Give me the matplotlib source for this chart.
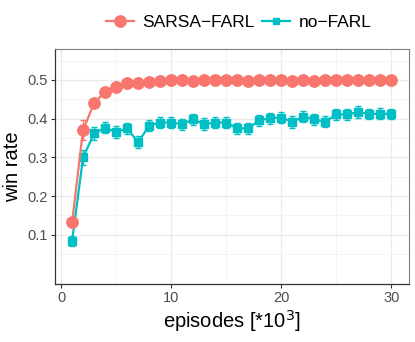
import matplotlib
matplotlib.use("Agg")
import matplotlib.pyplot as plt
from matplotlib.lines import Line2D

plt.rcParams['font.family'] = ['Liberation Sans', 'DejaVu Sans']

episodes = list(range(1, 31))
sarsa_farl = [0.132, 0.371, 0.440, 0.470, 0.483, 0.493, 0.493, 0.495, 0.497, 0.499,
              0.499, 0.498, 0.499, 0.499, 0.500, 0.499, 0.498, 0.499, 0.499, 0.499,
              0.498, 0.499, 0.497, 0.499, 0.499, 0.499, 0.499, 0.499, 0.499, 0.499]
sarsa_err = [0.012, 0.025, 0.006, 0.004, 0.003, 0.002, 0.002, 0.002, 0.002, 0.002,
             0.002, 0.002, 0.002, 0.002, 0.002, 0.002, 0.002, 0.002, 0.002, 0.002,
             0.002, 0.002, 0.002, 0.002, 0.002, 0.002, 0.002, 0.002, 0.002, 0.002]
no_farl = [0.084, 0.300, 0.362, 0.377, 0.365, 0.375, 0.339, 0.382, 0.390, 0.390,
           0.386, 0.398, 0.386, 0.390, 0.390, 0.375, 0.375, 0.396, 0.401, 0.403,
           0.392, 0.405, 0.398, 0.392, 0.411, 0.411, 0.417, 0.412, 0.413, 0.412]
no_farl_err = [0.012, 0.020, 0.016, 0.015, 0.015, 0.015, 0.015, 0.014, 0.014, 0.014,
               0.014, 0.014, 0.015, 0.014, 0.015, 0.015, 0.014, 0.014, 0.014, 0.014,
               0.015, 0.014, 0.014, 0.014, 0.014, 0.015, 0.015, 0.014, 0.014, 0.014]
series_labels = ["SARSA\u2212FARL", "no\u2212FARL"]

RED = "#F8766D"
TEAL = "#00BFC4"

fig = plt.figure(figsize=(4.15, 3.42), dpi=100)
ax = fig.add_axes([55/415, 1-284/342, (409-55)/415, (284-49)/342])

ax.errorbar(episodes, no_farl, yerr=no_farl_err, color=TEAL, marker="s", markersize=6,
            linewidth=1.6, elinewidth=1.0, capsize=2, capthick=1.0, zorder=3)
ax.errorbar(episodes, sarsa_farl, yerr=sarsa_err, color=RED, marker="o", markersize=8.2,
            linewidth=1.6, elinewidth=1.0, capsize=2, capthick=1.0, zorder=4)

ax.set_xlim(-0.55, 31.6)
ax.set_ylim(-0.027, 0.58)
ax.set_xticks([0, 10, 20, 30])
ax.set_xticks([5, 15, 25], minor=True)
ax.set_yticks([0.1, 0.2, 0.3, 0.4, 0.5])
ax.set_yticks([0.05, 0.15, 0.25, 0.35, 0.45, 0.55], minor=True)
ax.grid(which="major", color="#ebebeb", linewidth=1.0)
ax.grid(which="minor", color="#f2f2f2", linewidth=0.6)
ax.set_axisbelow(True)
for s in ["top", "right"]:
    ax.spines[s].set_color("#7f7f7f")
    ax.spines[s].set_linewidth(0.8)
for s in ["left", "bottom"]:
    ax.spines[s].set_color("#333333")
    ax.spines[s].set_linewidth(0.9)
ax.tick_params(which="major", length=3, color="#333333", labelsize=10.5, labelcolor="#4d4d4d", pad=2)
ax.tick_params(which="minor", length=0)

ax.set_xlabel("episodes [*10$^3$]", fontsize=14.5, labelpad=2)
ax.set_ylabel("win rate", fontsize=14.5, labelpad=4)

handles = [Line2D([], [], color=RED, marker="o", markersize=8.2, linewidth=1.6),
           Line2D([], [], color=TEAL, marker="s", markersize=5, linewidth=1.6)]
fig.legend(handles, series_labels, loc="center", bbox_to_anchor=(0.575, 0.935), ncol=2,
           frameon=False, fontsize=12.5, handlelength=1.6, columnspacing=0.4, handletextpad=0.5)

fig.savefig("out.png", dpi=100)
